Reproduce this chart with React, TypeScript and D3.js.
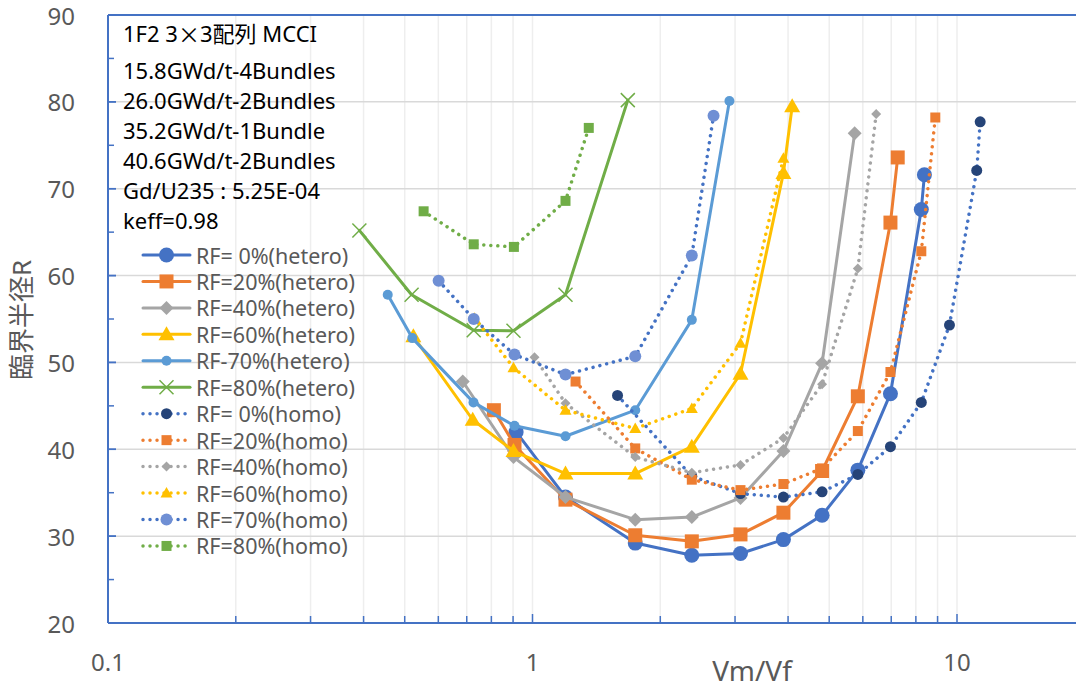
import React, { useEffect, useRef } from 'react'
import * as d3 from 'd3'

const width = 1076
const height = 688

// annotation block (top-left of the plot)
const noteLines = [
  '1F2 3×3配列 MCCI',
  '15.8GWd/t-4Bundles',
  '26.0GWd/t-2Bundles',
  '35.2GWd/t-1Bundle',
  '40.6GWd/t-2Bundles',
  'Gd/U235 : 5.25E-04',
  'keff=0.98',
]

const yTickValues = [20, 30, 40, 50, 60, 70, 80, 90]
const xTickValues = [0.1, 1, 10]
const xTickLabels = ['0.1', '1', '10']

// hetero series (solid lines)
const rf0HeteroX = [0.915, 1.196, 1.746, 2.373, 3.09, 3.9, 4.81, 5.84, 6.97, 8.24, 8.38]
const rf0HeteroY = [42.0, 34.5, 29.2, 27.8, 28.0, 29.6, 32.4, 37.6, 46.4, 67.6, 71.6]
const rf20HeteroX = [0.811, 0.907, 1.196, 1.746, 2.373, 3.09, 3.9, 4.81, 5.84, 6.97, 7.25]
const rf20HeteroY = [44.5, 40.5, 34.2, 30.1, 29.4, 30.2, 32.7, 37.5, 46.1, 66.1, 73.6]
const rf40HeteroX = [0.685, 0.902, 1.196, 1.746, 2.373, 3.09, 3.9, 4.81, 5.74]
const rf40HeteroY = [47.8, 39.1, 34.5, 31.9, 32.2, 34.4, 39.8, 49.9, 76.4]
const rf60HeteroX = [0.524, 0.723, 0.902, 1.196, 1.746, 2.373, 3.09, 3.9, 4.09]
const rf60HeteroY = [53.0, 43.4, 39.8, 37.2, 37.2, 40.3, 48.7, 71.8, 79.5]
const rf70HeteroX = [0.456, 0.521, 0.726, 0.907, 1.196, 1.746, 2.373, 2.91]
const rf70HeteroY = [57.8, 52.8, 45.4, 42.7, 41.5, 44.5, 54.9, 80.1]
const rf80HeteroX = [0.391, 0.519, 0.727, 0.902, 1.196, 1.677]
const rf80HeteroY = [65.2, 57.8, 53.7, 53.65, 57.8, 80.2]

// homo series (dotted lines)
const rf0HomoX = [1.586, 2.373, 3.09, 3.9, 4.81, 5.84, 6.97, 8.24, 9.6, 11.13, 11.34]
const rf0HomoY = [46.2, 36.9, 34.9, 34.5, 35.1, 37.1, 40.3, 45.4, 54.3, 72.1, 77.7]
const rf20HomoX = [1.263, 1.746, 2.373, 3.09, 3.9, 4.81, 5.84, 6.97, 8.24, 8.89]
const rf20HomoY = [47.8, 40.1, 36.5, 35.3, 36.0, 37.8, 42.1, 48.9, 62.8, 78.2]
const rf40HomoX = [1.011, 1.196, 1.746, 2.373, 3.09, 3.9, 4.81, 5.84, 6.45]
const rf40HomoY = [50.6, 45.3, 39.1, 37.3, 38.2, 41.3, 47.5, 60.8, 78.6]
const rf60HomoX = [0.73, 0.902, 1.196, 1.746, 2.373, 3.09, 3.9]
const rf60HomoY = [55.1, 49.4, 44.5, 42.4, 44.7, 52.2, 73.5]
const rf70HomoX = [0.601, 0.727, 0.907, 1.196, 1.746, 2.373, 2.67]
const rf70HomoY = [59.4, 55.0, 50.9, 48.6, 50.7, 62.3, 78.4]
const rf80HomoX = [0.554, 0.727, 0.904, 1.196, 1.357]
const rf80HomoY = [67.4, 63.6, 63.3, 68.6, 77.0]

const seriesNames = [
  'RF= 0%(hetero)', 'RF=20%(hetero)', 'RF=40%(hetero)', 'RF=60%(hetero)', 'RF-70%(hetero)', 'RF=80%(hetero)',
  'RF= 0%(homo)', 'RF=20%(homo)', 'RF=40%(homo)', 'RF=60%(homo)', 'RF=70%(homo)', 'RF=80%(homo)',
]

type Marker = 'circle' | 'square' | 'diamond' | 'triangle' | 'x'
type Series = {
  name: string
  xs: number[]
  ys: number[]
  color: string
  fill: string
  marker: Marker
  size: number
  dotted: boolean
}

const series: Series[] = [
  { name: seriesNames[0], xs: rf0HeteroX, ys: rf0HeteroY, color: '#4472C4', fill: '#4472C4', marker: 'circle', size: 7.5, dotted: false },
  { name: seriesNames[1], xs: rf20HeteroX, ys: rf20HeteroY, color: '#ED7D31', fill: '#ED7D31', marker: 'square', size: 7, dotted: false },
  { name: seriesNames[2], xs: rf40HeteroX, ys: rf40HeteroY, color: '#A5A5A5', fill: '#A5A5A5', marker: 'diamond', size: 7, dotted: false },
  { name: seriesNames[3], xs: rf60HeteroX, ys: rf60HeteroY, color: '#FFC000', fill: '#FFC000', marker: 'triangle', size: 8, dotted: false },
  { name: seriesNames[4], xs: rf70HeteroX, ys: rf70HeteroY, color: '#5B9BD5', fill: '#5B9BD5', marker: 'circle', size: 5, dotted: false },
  { name: seriesNames[5], xs: rf80HeteroX, ys: rf80HeteroY, color: '#70AD47', fill: '#70AD47', marker: 'x', size: 7, dotted: false },
  { name: seriesNames[6], xs: rf0HomoX, ys: rf0HomoY, color: '#4472C4', fill: '#264478', marker: 'circle', size: 5.5, dotted: true },
  { name: seriesNames[7], xs: rf20HomoX, ys: rf20HomoY, color: '#ED7D31', fill: '#ED7D31', marker: 'square', size: 5, dotted: true },
  { name: seriesNames[8], xs: rf40HomoX, ys: rf40HomoY, color: '#A5A5A5', fill: '#A5A5A5', marker: 'diamond', size: 5, dotted: true },
  { name: seriesNames[9], xs: rf60HomoX, ys: rf60HomoY, color: '#FFC000', fill: '#FFC000', marker: 'triangle', size: 6, dotted: true },
  { name: seriesNames[10], xs: rf70HomoX, ys: rf70HomoY, color: '#4472C4', fill: '#6F8FD4', marker: 'circle', size: 6, dotted: true },
  { name: seriesNames[11], xs: rf80HomoX, ys: rf80HomoY, color: '#70AD47', fill: '#70AD47', marker: 'square', size: 5, dotted: true },
]

function markerPath(m: Marker, s: number) {
  if (m === 'circle') return `M${-s},0A${s},${s} 0 1,0 ${s},0A${s},${s} 0 1,0 ${-s},0Z`
  if (m === 'square') return `M${-s},${-s}H${s}V${s}H${-s}Z`
  if (m === 'diamond') return `M0,${-s}L${s},0L0,${s}L${-s},0Z`
  if (m === 'triangle') return `M0,${-s}L${s},${s * 0.75}L${-s},${s * 0.75}Z`
  return `M${-s},${-s}L${s},${s}M${s},${-s}L${-s},${s}`
}

const font = '"Noto Sans", "Noto Sans CJK JP", sans-serif'
const cjkFont = '"Noto Sans CJK JP", sans-serif'

export default function App() {
  const ref = useRef<SVGSVGElement | null>(null)

  function draw() {
    document.body.style.margin = '0'
    document.body.style.overflow = 'hidden'
    var svg = d3.select(ref.current)
    svg.selectAll('*').remove()

    var left = 108, top = 15, bottom = 623
    var x = d3.scaleLog().domain([0.1, 20]).range([left, left + 424.5 * Math.log10(200)])
    var y = d3.scaleLinear().domain([20, 90]).range([bottom, top])

    var g = svg.append('g')

    // vertical grid (log minors)
    var minors: number[] = []
    ;[0.1, 1].forEach(function (d) {
      for (var i = 1; i <= 9; i++) minors.push(d * i)
    })
    minors.push(10)
    g.selectAll('.vgrid')
      .data(minors.filter(function (d) { return d > 0.1 }))
      .enter().append('line')
      .attr('x1', function (d) { return x(d) }).attr('x2', function (d) { return x(d) })
      .attr('y1', top).attr('y2', bottom)
      .attr('stroke', '#eeeeee').attr('stroke-width', 1.5)

    g.selectAll('.hgrid')
      .data(yTickValues.slice(1))
      .enter().append('line')
      .attr('x1', left).attr('x2', width)
      .attr('y1', function (d) { return y(d) }).attr('y2', function (d) { return y(d) })
      .attr('stroke', '#d9d9d9').attr('stroke-width', 1.5)

    // axes
    var axisColor = '#4472C4'
    g.append('line').attr('x1', left).attr('x2', width).attr('y1', bottom).attr('y2', bottom)
      .attr('stroke', axisColor).attr('stroke-width', 2)
    g.append('line').attr('x1', left).attr('x2', width).attr('y1', top).attr('y2', top)
      .attr('stroke', axisColor).attr('stroke-width', 2)
    g.append('line').attr('x1', left).attr('x2', left).attr('y1', top).attr('y2', bottom)
      .attr('stroke', axisColor).attr('stroke-width', 2)

    // y ticks (major + half minors)
    var yMinor = d3.range(25, 90, 5)
    g.selectAll('.ytick')
      .data(yMinor.concat(yTickValues))
      .enter().append('line')
      .attr('x1', left).attr('x2', function (d) { return left + (d % 10 === 0 ? 8 : 6) })
      .attr('y1', function (d) { return y(d) }).attr('y2', function (d) { return y(d) })
      .attr('stroke', axisColor).attr('stroke-width', 1.5)

    g.selectAll('.xtick')
      .data(minors)
      .enter().append('line')
      .attr('x1', function (d) { return x(d) }).attr('x2', function (d) { return x(d) })
      .attr('y1', bottom).attr('y2', function (d) { return bottom - (xTickValues.indexOf(d) >= 0 ? 9 : 7) })
      .attr('stroke', axisColor).attr('stroke-width', 1.5)

    // tick labels
    g.selectAll('.ylab')
      .data(yTickValues)
      .enter().append('text')
      .attr('x', 75).attr('y', function (d) { return y(d) })
      .attr('text-anchor', 'end').attr('dominant-baseline', 'central')
      .attr('font-family', font).attr('font-size', 24).attr('fill', '#595959')
      .text(function (d) { return String(d) })

    g.selectAll('.xlab')
      .data(xTickValues)
      .enter().append('text')
      .attr('x', function (d) { return x(d) }).attr('y', 661)
      .attr('text-anchor', 'middle').attr('dominant-baseline', 'central')
      .attr('font-family', font).attr('font-size', 24).attr('fill', '#595959')
      .text(function (d, i) { return xTickLabels[i] })

    g.append('text')
      .attr('x', 752).attr('y', 670)
      .attr('text-anchor', 'middle').attr('dominant-baseline', 'central')
      .attr('font-family', font).attr('font-size', 28).attr('fill', '#595959')
      .text('Vm/Vf')

    g.append('text')
      .attr('transform', 'translate(21,320) rotate(-90)')
      .attr('text-anchor', 'middle').attr('dominant-baseline', 'central')
      .attr('font-family', font).attr('font-size', 26).attr('fill', '#595959')
      .text('臨界半径R')

    // annotation
    var noteY = [33, 70, 100, 130, 160, 190, 220]
    var notes = g.selectAll('.note')
      .data(noteLines)
      .enter().append('text')
      .attr('x', 123).attr('y', function (d, i) { return noteY[i] })
      .attr('dominant-baseline', 'central')
      .attr('font-family', font).attr('font-size', 22).attr('fill', '#000')
    notes.each(function (d) {
      var t = d3.select(this)
      var parts = d.split('×')
      if (parts.length === 1) { t.text(d); return }
      t.append('tspan').text(parts[0])
      t.append('tspan').attr('font-family', cjkFont).text('×')
      t.append('tspan').text(parts[1])
    })

    // series
    series.forEach(function (s) {
      var pts = s.xs.map(function (v, i) { return [x(v), y(s.ys[i])] as [number, number] })
      var sg = g.append('g')
      sg.append('path')
        .attr('d', d3.line()(pts))
        .attr('fill', 'none')
        .attr('stroke', s.color)
        .attr('stroke-width', s.dotted ? 3.5 : 3)
        .attr('stroke-linecap', 'round')
        .attr('stroke-linejoin', 'round')
        .attr('stroke-dasharray', s.dotted ? '0.01 7' : null)
      sg.selectAll('.m')
        .data(pts)
        .enter().append('path')
        .attr('transform', function (d) { return 'translate(' + d[0] + ',' + d[1] + ')' })
        .attr('d', markerPath(s.marker, s.size))
        .attr('fill', s.marker === 'x' ? 'none' : s.fill)
        .attr('stroke', s.marker === 'x' ? s.fill : 'none')
        .attr('stroke-width', 1.5)
    })

    // legend
    var lg = g.append('g')
    series.forEach(function (s, i) {
      var ly = 255 + i * 26.45
      lg.append('line')
        .attr('x1', 143).attr('x2', 190).attr('y1', ly).attr('y2', ly)
        .attr('stroke', s.color)
        .attr('stroke-width', s.dotted ? 3.5 : 3)
        .attr('stroke-linecap', 'round')
        .attr('stroke-dasharray', s.dotted ? '0.01 7' : null)
      lg.append('path')
        .attr('transform', 'translate(166.5,' + ly + ')')
        .attr('d', markerPath(s.marker, s.size))
        .attr('fill', s.marker === 'x' ? 'none' : s.fill)
        .attr('stroke', s.marker === 'x' ? s.fill : 'none')
        .attr('stroke-width', 1.5)
      lg.append('text')
        .attr('x', 196).attr('y', ly)
        .attr('dominant-baseline', 'central')
        .attr('font-family', font).attr('font-size', 21.5).attr('fill', '#595959')
        .text(s.name)
    })
  }

  useEffect(() => {
    draw()
  }, [])

  return (
    <svg ref={ref} width={width} height={height}
      style={{ display: 'block', background: '#fff', fontFamily: font }} />
  )
}
